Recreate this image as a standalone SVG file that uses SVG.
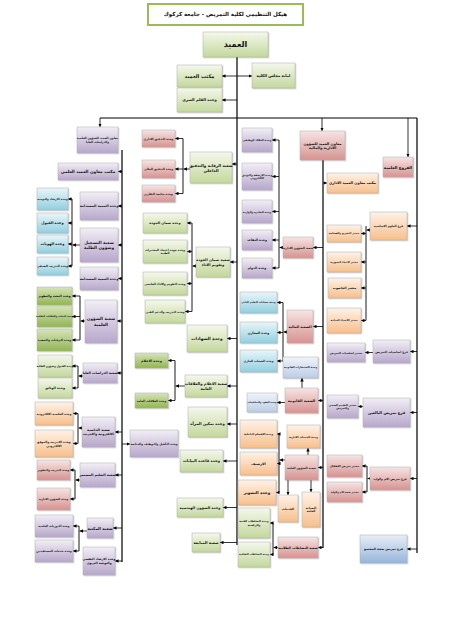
<svg xmlns="http://www.w3.org/2000/svg" width="451" height="630" viewBox="0 0 451 630">
<style>
.b{stroke:#b0b0b0;stroke-width:.5;filter:url(#sh)}
.gr{fill:url(#gGr)}.gd{fill:url(#gGd)}.pu{fill:url(#gPu)}.pk{fill:url(#gPk)}.or{fill:url(#gOr)}.cy{fill:url(#gCy)}.bl{fill:url(#gBl)}.lv{fill:url(#gLv)}
text{font-family:"DejaVu Sans",sans-serif;font-weight:bold;text-anchor:middle;fill:#111}
.c{stroke:#000;stroke-width:.9;fill:none}
.m{stroke:#000;stroke-width:1.2;fill:none}
.a{stroke:#000;stroke-width:.8;fill:none;marker-end:url(#ar)}
</style>
<defs>
<filter id="sh" x="-20%" y="-20%" width="150%" height="150%"><feDropShadow dx="0.8" dy="0.8" stdDeviation="0.6" flood-color="#000" flood-opacity="0.3"/></filter>
<linearGradient id="gGr" x1="0" y1="0" x2="0" y2="1"><stop offset="0" stop-color="#f4f8ea"/><stop offset="1" stop-color="#c4d89c"/></linearGradient>
<linearGradient id="gGd" x1="0" y1="0" x2="0" y2="1"><stop offset="0" stop-color="#d6e5b6"/><stop offset="1" stop-color="#92b553"/></linearGradient>
<linearGradient id="gPu" x1="0" y1="0" x2="0" y2="1"><stop offset="0" stop-color="#f2eef6"/><stop offset="1" stop-color="#b7a7cb"/></linearGradient>
<linearGradient id="gPk" x1="0" y1="0" x2="0" y2="1"><stop offset="0" stop-color="#f8e4e3"/><stop offset="1" stop-color="#d69391"/></linearGradient>
<linearGradient id="gOr" x1="0" y1="0" x2="0" y2="1"><stop offset="0" stop-color="#fff2e6"/><stop offset="1" stop-color="#f7bf8c"/></linearGradient>
<linearGradient id="gCy" x1="0" y1="0" x2="0" y2="1"><stop offset="0" stop-color="#e8f6fa"/><stop offset="1" stop-color="#92cfdf"/></linearGradient>
<linearGradient id="gBl" x1="0" y1="0" x2="0" y2="1"><stop offset="0" stop-color="#e6eef8"/><stop offset="1" stop-color="#97b5da"/></linearGradient>
<linearGradient id="gLv" x1="0" y1="0" x2="0" y2="1"><stop offset="0" stop-color="#f0f4fa"/><stop offset="1" stop-color="#bccde6"/></linearGradient>
<marker id="ar" viewBox="0 0 6 6" refX="6" refY="3" markerWidth="3.5" markerHeight="3.5" markerUnits="userSpaceOnUse" orient="auto"><path d="M0,0L6,3L0,6z" fill="#000"/></marker>
</defs>
<rect width="451" height="630" fill="#fff"/>

<g id="connectors">
<path class="m" d="M237,57V545M122,150V562M323,160V548M417,118V553"/>
<path class="m" stroke-width="2" d="M100,118H417"/>
<line class="a" x1="100" y1="118" x2="100" y2="127"/>
<line class="a" x1="322" y1="118" x2="322" y2="131"/>
<line class="a" x1="408" y1="118" x2="408" y2="157"/>
<line class="a" x1="237" y1="76" x2="222" y2="76"/>
<line class="a" x1="237" y1="76" x2="252" y2="76"/>
<line class="a" x1="237" y1="100" x2="222" y2="100"/>
<line class="a" x1="122" y1="171.5" x2="118" y2="171.5"/>
<line class="a" x1="122" y1="206" x2="118" y2="206"/>
<line class="a" x1="122" y1="245" x2="118" y2="245"/>
<line class="a" x1="122" y1="278.5" x2="118" y2="278.5"/>
<line class="a" x1="122" y1="321" x2="117" y2="321"/>
<line class="a" x1="122" y1="373" x2="117" y2="373"/>
<line class="a" x1="122" y1="432" x2="115" y2="432"/>
<line class="a" x1="122" y1="475" x2="115" y2="475"/>
<line class="a" x1="122" y1="528" x2="113" y2="528"/>
<line class="a" x1="122" y1="561" x2="115" y2="561"/>
<line class="a" x1="122" y1="444" x2="130" y2="444"/>
<path class="c" d="M72,199V266M80,296V340M78,366V388M78,413.5V443.5M75,470V499M79,526V551"/>
<line class="a" x1="80" y1="245" x2="72.5" y2="245"/>
<line class="a" x1="72" y1="199" x2="68" y2="199"/>
<line class="a" x1="72" y1="223" x2="68" y2="223"/>
<line class="a" x1="72" y1="244" x2="68" y2="244"/>
<line class="a" x1="72" y1="266" x2="68" y2="266"/>
<line class="a" x1="85" y1="321" x2="80.5" y2="321"/>
<line class="a" x1="80" y1="296" x2="72" y2="296"/>
<line class="a" x1="80" y1="316.5" x2="72" y2="316.5"/>
<line class="a" x1="80" y1="340" x2="72" y2="340"/>
<line class="a" x1="83" y1="376" x2="78.5" y2="376"/>
<line class="a" x1="78" y1="366" x2="72" y2="366"/>
<line class="a" x1="78" y1="388" x2="72" y2="388"/>
<line class="a" x1="82" y1="428" x2="78.5" y2="428"/>
<line class="a" x1="78" y1="413.5" x2="73" y2="413.5"/>
<line class="a" x1="78" y1="443.5" x2="73" y2="443.5"/>
<line class="a" x1="80" y1="480" x2="75.5" y2="480"/>
<line class="a" x1="75" y1="470" x2="70" y2="470"/>
<line class="a" x1="75" y1="499" x2="70" y2="499"/>
<line class="a" x1="87" y1="531" x2="79.5" y2="531"/>
<line class="a" x1="79" y1="526" x2="73" y2="526"/>
<line class="a" x1="79" y1="551" x2="73" y2="551"/>
<line class="a" x1="237" y1="164" x2="232" y2="164"/>
<line class="a" x1="237" y1="262" x2="230" y2="262"/>
<line class="a" x1="237" y1="338.5" x2="227" y2="338.5"/>
<line class="a" x1="237" y1="386" x2="227" y2="386"/>
<line class="a" x1="237" y1="424" x2="227" y2="424"/>
<line class="a" x1="237" y1="461" x2="223" y2="461"/>
<line class="a" x1="237" y1="507.5" x2="223" y2="507.5"/>
<line class="a" x1="237" y1="542.5" x2="220" y2="542.5"/>
<path class="c" d="M183,138.5V193.5M192,223V311.5M175,360.5V400.5"/>
<line class="a" x1="190" y1="169" x2="183.5" y2="169"/>
<line class="a" x1="183" y1="138.5" x2="175" y2="138.5"/>
<line class="a" x1="183" y1="169" x2="175" y2="169"/>
<line class="a" x1="183" y1="193.5" x2="175" y2="193.5"/>
<line class="a" x1="196" y1="266" x2="192.5" y2="266"/>
<line class="a" x1="192" y1="223" x2="187" y2="223"/>
<line class="a" x1="192" y1="251.5" x2="187" y2="251.5"/>
<line class="a" x1="192" y1="283.5" x2="187" y2="283.5"/>
<line class="a" x1="192" y1="311.5" x2="185" y2="311.5"/>
<line class="a" x1="185" y1="386" x2="175.5" y2="386"/>
<line class="a" x1="175" y1="360.5" x2="168" y2="360.5"/>
<line class="a" x1="175" y1="400.5" x2="168" y2="400.5"/>
<line class="a" x1="323" y1="183" x2="327" y2="183"/>
<line class="a" x1="323" y1="247.5" x2="313" y2="247.5"/>
<line class="a" x1="323" y1="326.5" x2="313" y2="326.5"/>
<line class="a" x1="323" y1="400.5" x2="318" y2="400.5"/>
<line class="a" x1="323" y1="467.5" x2="318" y2="467.5"/>
<line class="a" x1="323" y1="547.5" x2="318" y2="547.5"/>
<path class="c" d="M279,140V268M283,302.5V361M279,434V492.5M273,523V554.5"/>
<line class="a" x1="283" y1="247.5" x2="279.5" y2="247.5"/>
<line class="a" x1="279" y1="140" x2="272" y2="140"/>
<line class="a" x1="279" y1="176.5" x2="272" y2="176.5"/>
<line class="a" x1="279" y1="211.5" x2="272" y2="211.5"/>
<line class="a" x1="279" y1="240" x2="272" y2="240"/>
<line class="a" x1="279" y1="268" x2="272" y2="268"/>
<line class="a" x1="287" y1="332" x2="283.5" y2="332"/>
<line class="a" x1="283" y1="302.5" x2="277" y2="302.5"/>
<line class="a" x1="283" y1="332.5" x2="277" y2="332.5"/>
<line class="a" x1="283" y1="361" x2="277" y2="361"/>
<line class="a" x1="302" y1="388" x2="302" y2="378"/>
<line class="a" x1="285" y1="402.5" x2="277" y2="402.5"/>
<line class="a" x1="308" y1="455" x2="308" y2="448"/>
<line class="a" x1="285" y1="460" x2="279.5" y2="460"/>
<line class="a" x1="279" y1="434" x2="277" y2="434"/>
<line class="a" x1="279" y1="463.5" x2="277" y2="463.5"/>
<line class="a" x1="279" y1="492.5" x2="276" y2="492.5"/>
<line class="a" x1="288" y1="480" x2="288" y2="495"/>
<line class="a" x1="311" y1="480" x2="311" y2="492"/>
<line class="a" x1="278" y1="547.5" x2="273.5" y2="547.5"/>
<line class="a" x1="273" y1="523" x2="270" y2="523"/>
<line class="a" x1="273" y1="554.5" x2="270" y2="554.5"/>
<line class="a" x1="417" y1="226" x2="407" y2="226"/>
<line class="a" x1="417" y1="351.5" x2="410" y2="351.5"/>
<line class="a" x1="417" y1="412.5" x2="410" y2="412.5"/>
<line class="a" x1="417" y1="478.5" x2="410" y2="478.5"/>
<line class="a" x1="417" y1="549" x2="407" y2="549"/>
<path class="c" d="M366,226V320.5M367,466V492"/>
<line class="a" x1="370" y1="230" x2="366.5" y2="230"/>
<line class="a" x1="366" y1="233.5" x2="361" y2="233.5"/>
<line class="a" x1="366" y1="262" x2="361" y2="262"/>
<line class="a" x1="366" y1="288" x2="361" y2="288"/>
<line class="a" x1="366" y1="320.5" x2="361" y2="320.5"/>
<line class="a" x1="373" y1="352.5" x2="365" y2="352.5"/>
<line class="a" x1="363" y1="406.5" x2="358" y2="406.5"/>
<line class="a" x1="370" y1="478.5" x2="367.5" y2="478.5"/>
<line class="a" x1="367" y1="466" x2="362" y2="466"/>
<line class="a" x1="367" y1="492" x2="362" y2="492"/>
</g>

<g id="title"><rect x="148" y="4" width="155" height="21" fill="#fff" stroke="#9bbb59" stroke-width="2"/><text x="225.5" y="16.4" font-size="5.5">هيكل التنظيمي لكلية التمريض - جامعة كركوك</text></g>
<g id="dean"><rect class="b gr" x="203" y="32" width="65" height="25"/><text x="235.5" y="47.3" font-size="8">العميد</text></g>
<g id="dean-office"><rect class="b gr" x="177" y="65" width="45" height="22"/><text x="199.5" y="77.8" font-size="5">مكتب العميد</text></g>
<g id="council"><rect class="b gr" x="252" y="63" width="43" height="25"/><text x="273.5" y="76.8" font-size="3.8">امانة مجلس الكلية</text></g>
<g id="secret"><rect class="b gr" x="177" y="88" width="45" height="24"/><text x="199.5" y="101.3" font-size="3.8">وحدة القلم السري</text></g>

<g id="L1"><rect class="b pu" x="77" y="127" width="41" height="26"/><text x="97.5" y="139" font-size="2.9">معاون العميد للشؤون العلمية</text><text x="97.5" y="143.3" font-size="2.9">والدراسات العليا</text></g>
<g id="L2"><rect class="b pu" x="58" y="163" width="60" height="17"/><text x="88" y="173" font-size="4.2">مكتب معاون العميد العلمي</text></g>
<g id="L3"><rect class="b pu" x="80" y="192" width="38" height="28"/><text x="99" y="207.3" font-size="3.4">وحدة التنمية المستدامة</text></g>
<g id="L4"><rect class="b pu" x="80" y="228" width="38" height="34"/><text x="99" y="243.9" font-size="4.2">شعبة التسجيل</text><text x="99" y="249.1" font-size="4.2">وشؤون الطلبة</text></g>
<g id="C1"><rect class="b cy" x="37" y="188" width="31" height="22"/><text x="52.5" y="200" font-size="2.8">وحدة الارشاد والتوجيه</text></g>
<g id="C2"><rect class="b cy" x="37" y="213" width="31" height="20"/><text x="52.5" y="224.3" font-size="3.6">وحدة القبول</text></g>
<g id="C3"><rect class="b cy" x="37" y="235" width="31" height="18"/><text x="52.5" y="245.3" font-size="3.6">وحدة الهويات</text></g>
<g id="C4"><rect class="b cy" x="37" y="257" width="31" height="18"/><text x="52.5" y="267" font-size="2.9">وحدة التدريب الصيفي</text></g>
<g id="L5"><rect class="b pu" x="80" y="267" width="38" height="23"/><text x="99" y="279.8" font-size="3.4">وحدة التنمية المستدامة</text></g>
<g id="L6"><rect class="b pu" x="85" y="300" width="32" height="43"/><text x="101" y="320.4" font-size="4.2">شعبة الشؤون</text><text x="101" y="325.6" font-size="4.2">العلمية</text></g>
<g id="G1"><rect class="b gd" x="37" y="287" width="35" height="18"/><text x="54.5" y="297.1" font-size="3.1">وحدة البحث والتطوير</text></g>
<g id="G2"><rect class="b gd" x="37" y="306" width="35" height="21"/><text x="54.5" y="317.4" font-size="2.4">وحدة البعثات والعلاقات الثقافية</text></g>
<g id="G3"><rect class="b gd" x="37" y="329" width="35" height="22"/><text x="54.5" y="341" font-size="2.9">وحدة الترقيات والتعضيد</text></g>
<g id="L7"><rect class="b pu" x="83" y="363" width="34" height="20"/><text x="100" y="374.3" font-size="3.4">شعبة الدراسات العليا</text></g>
<g id="G4"><rect class="b gr" x="38" y="355" width="34" height="22"/><text x="55" y="367" font-size="2.7">وحدة القبول وشؤون الطلبة</text></g>
<g id="G5"><rect class="b gr" x="38" y="378" width="34" height="20"/><text x="55" y="389.1" font-size="3.2">وحدة الوثائق</text></g>
<g id="L8"><rect class="b pu" x="82" y="417" width="33" height="30"/><text x="98.5" y="431" font-size="3.4">شعبة الحاسبة</text><text x="98.5" y="435.3" font-size="3.1">الالكترونية والانترنت</text></g>
<g id="O1"><rect class="b or" x="35" y="402" width="38" height="23"/><text x="54" y="414.5" font-size="2.9">وحدة الحاسبة الالكترونية</text></g>
<g id="O2"><rect class="b or" x="35" y="430" width="38" height="27"/><text x="54" y="442.6" font-size="3">وحدة الانترنت والموقع</text><text x="54" y="446.6" font-size="3">الالكتروني</text></g>
<g id="L9"><rect class="b pu" x="80" y="463" width="35" height="24"/><text x="97.5" y="476.3" font-size="3.4">شعبة التعليم المستمر</text></g>
<g id="P1"><rect class="b pk" x="37" y="460" width="33" height="20"/><text x="53.5" y="471" font-size="2.8">وحدة التدريب والتطوير</text></g>
<g id="P2"><rect class="b pk" x="37" y="488" width="33" height="22"/><text x="53.5" y="500" font-size="2.8">وحدة الشؤون الادارية</text></g>
<g id="L10"><rect class="b pu" x="87" y="518" width="26" height="20"/><text x="100" y="529.5" font-size="4">شعبة المكتبة</text></g>
<g id="U1"><rect class="b pu" x="35" y="515" width="38" height="22"/><text x="54" y="527" font-size="2.9">وحدة الدوريات العلمية</text></g>
<g id="U2"><rect class="b pu" x="35" y="540" width="38" height="22"/><text x="54" y="552" font-size="2.9">وحدة خدمات المستفيدين</text></g>
<g id="L11"><rect class="b pu" x="83" y="547" width="32" height="28"/><text x="99" y="560.1" font-size="3.1">وحدة الارشاد النفسي</text><text x="99" y="564.1" font-size="3.1">والتوجيه التربوي</text></g>
<g id="L12"><rect class="b pu" x="130" y="430" width="48" height="27"/><text x="154" y="444.5" font-size="2.9">وحدة التأهيل والتوظيف والمتابعة</text></g>

<g id="M1"><rect class="b gr" x="190" y="152" width="42" height="31"/><text x="211" y="166.5" font-size="4">شعبة الرقابة والتدقيق</text><text x="211" y="171.5" font-size="4">الداخلي</text></g>
<g id="K1"><rect class="b pk" x="142" y="130" width="33" height="17"/><text x="158.5" y="139.5" font-size="2.9">وحدة التدقيق الاداري</text></g>
<g id="K2"><rect class="b pk" x="142" y="160" width="33" height="18"/><text x="158.5" y="170" font-size="2.9">وحدة التدقيق المالي</text></g>
<g id="K3"><rect class="b pk" x="142" y="185" width="33" height="17"/><text x="158.5" y="194.5" font-size="2.9">وحدة متابعة التقارير</text></g>
<g id="M2"><rect class="b gr" x="196" y="247" width="34" height="30"/><text x="213" y="261" font-size="3.6">شعبة ضمان الجودة</text><text x="213" y="265.5" font-size="3.6">وتقويم الاداء</text></g>
<g id="Q1"><rect class="b gr" x="143" y="213" width="44" height="20"/><text x="165" y="224.2" font-size="3.4">وحدة ضمان الجودة</text></g>
<g id="Q2"><rect class="b gr" x="143" y="240" width="44" height="23"/><text x="165" y="250.7" font-size="2.9">وحدة جودة اعتماد المختبرات</text><text x="165" y="254.4" font-size="2.9">الطبية</text></g>
<g id="Q3"><rect class="b gr" x="143" y="272" width="44" height="23"/><text x="165" y="284.5" font-size="2.9">وحدة التقويم والاداء الجامعي</text></g>
<g id="Q4"><rect class="b gr" x="145" y="300" width="40" height="23"/><text x="165" y="312.5" font-size="2.9">وحدة التدريب والدعم الفني</text></g>
<g id="M3"><rect class="b gr" x="187" y="325" width="40" height="27"/><text x="207" y="340" font-size="4.2">وحدة الشهادات</text></g>
<g id="M4"><rect class="b gr" x="185" y="375" width="42" height="22"/><text x="206" y="384.9" font-size="3.8">شعبة الاعلام والعلاقات</text><text x="206" y="389.6" font-size="3.8">العامة</text></g>
<g id="E1"><rect class="b gd" x="135" y="353" width="33" height="15"/><text x="151.5" y="361.7" font-size="3.4">وحدة الاعلام</text></g>
<g id="E2"><rect class="b gd" x="135" y="393" width="33" height="15"/><text x="151.5" y="401.5" font-size="2.9">وحدة العلاقات العامة</text></g>
<g id="M5"><rect class="b gr" x="188" y="407" width="39" height="30"/><text x="207.5" y="425" font-size="3.8">وحدة تمكين المرأة</text></g>
<g id="M6"><rect class="b gr" x="180" y="450" width="43" height="22"/><text x="201.5" y="462.3" font-size="3.8">وحدة قاعدة البيانات</text></g>
<g id="M7"><rect class="b gr" x="177" y="498" width="46" height="19"/><text x="200" y="508.8" font-size="3.6">وحدة الشؤون الهندسية</text></g>
<g id="M8"><rect class="b gr" x="192" y="533" width="28" height="19"/><text x="206" y="543.8" font-size="3.8">شعبة المتابعة</text></g>

<g id="R0"><rect class="b pk" x="300" y="131" width="45" height="29"/><text x="322.5" y="144.5" font-size="3.6">معاون العميد للشؤون</text><text x="322.5" y="149" font-size="3.6">الادارية والمالية</text></g>
<g id="R00"><rect class="b or" x="327" y="173" width="51" height="20"/><text x="352.5" y="184.3" font-size="3.6">مكتب معاون العميد الاداري</text></g>
<g id="R1"><rect class="b pk" x="283" y="237" width="30" height="21"/><text x="298" y="248.5" font-size="2.9">شعبة الشؤون الادارية</text></g>
<g id="A1"><rect class="b pu" x="242" y="128" width="30" height="24"/><text x="257" y="141" font-size="2.7">وحدة الملاك الوظيفي</text></g>
<g id="A2"><rect class="b pu" x="242" y="163" width="30" height="27"/><text x="257" y="175.7" font-size="2.7">وحدة الارشفة والتوثيق</text><text x="257" y="179.2" font-size="2.7">الالكتروني</text></g>
<g id="A3"><rect class="b pu" x="242" y="200" width="30" height="23"/><text x="257" y="212.5" font-size="2.6">وحدة الصادرة والواردة</text></g>
<g id="A4"><rect class="b pu" x="242" y="230" width="30" height="20"/><text x="257" y="241.1" font-size="3.2">وحدة التقاعد</text></g>
<g id="A5"><rect class="b pu" x="242" y="258" width="30" height="20"/><text x="257" y="269.1" font-size="3.2">وحدة الدوام</text></g>
<g id="R2"><rect class="b pk" x="287" y="310" width="26" height="33"/><text x="300" y="327.8" font-size="3.4">الشعبة المالية</text></g>
<g id="F1"><rect class="b cy" x="240" y="292" width="37" height="21"/><text x="258.5" y="303.4" font-size="2.5">وحدة حسابات التعليم الذاتي</text></g>
<g id="F2"><rect class="b cy" x="240" y="322" width="37" height="21"/><text x="258.5" y="333.6" font-size="3.2">وحدة المخازن</text></g>
<g id="F3"><rect class="b cy" x="240" y="350" width="37" height="22"/><text x="258.5" y="362" font-size="2.9">وحدة الحساب الجاري</text></g>
<g id="R3"><rect class="b lv" x="283" y="357" width="35" height="21"/><text x="300.5" y="368.4" font-size="2.5">وحدة الاستشارات القانونية</text></g>
<g id="R4"><rect class="b pk" x="285" y="388" width="33" height="25"/><text x="301.5" y="401.8" font-size="3.5">الشعبة القانونية</text></g>
<g id="J1"><rect class="b lv" x="247" y="393" width="30" height="19"/><text x="262" y="403.4" font-size="2.4">وحدة العقود والمناقصات</text></g>
<g id="R5"><rect class="b or" x="287" y="425" width="33" height="23"/><text x="303.5" y="437.5" font-size="2.7">وحدة الخدمات الادارية</text></g>
<g id="R6"><rect class="b pk" x="285" y="455" width="33" height="25"/><text x="301.5" y="468.5" font-size="2.9">شعبة الشؤون العامة</text></g>
<g id="S1"><rect class="b or" x="240" y="420" width="37" height="28"/><text x="258.5" y="435" font-size="2.7">وحدة الاقسام الداخلية</text></g>
<g id="S2"><rect class="b or" x="240" y="452" width="37" height="23"/><text x="258.5" y="464.7" font-size="3.4">الارشيف</text></g>
<g id="S3"><rect class="b or" x="238" y="480" width="38" height="25"/><text x="257" y="494" font-size="4">وحدة التصوير</text></g>
<g id="S4"><rect class="b or" x="278" y="495" width="20" height="27"/><text x="288" y="509.5" font-size="3">الخدمات</text></g>
<g id="S5"><rect class="b or" x="302" y="492" width="18" height="35"/><text x="311" y="508.7" font-size="3">الصيانة</text><text x="311" y="512.4" font-size="3">العامة</text></g>
<g id="R7"><rect class="b pk" x="278" y="537" width="40" height="21"/><text x="298" y="548.7" font-size="3.3">شعبة النشاطات الطلابية</text></g>
<g id="N1"><rect class="b gr" x="238" y="508" width="32" height="30"/><text x="254" y="522.2" font-size="2.7">وحدة النشاطات الفنية</text><text x="254" y="525.7" font-size="2.7">والرياضية</text></g>
<g id="N2"><rect class="b gr" x="238" y="542" width="32" height="25"/><text x="254" y="555.4" font-size="2.5">وحدة النشاطات الثقافية</text></g>

<g id="B0"><rect class="b pk" x="383" y="157" width="30" height="20"/><text x="398" y="168.5" font-size="4">الفروع العلمية</text></g>
<g id="B1"><rect class="b or" x="370" y="212" width="37" height="28"/><text x="388.5" y="227" font-size="2.9">فرع العلوم الاساسية</text></g>
<g id="H1"><rect class="b or" x="327" y="225" width="34" height="17"/><text x="344" y="234.4" font-size="2.5">مختبر التشريح والفسلجة</text></g>
<g id="H2"><rect class="b or" x="327" y="252" width="34" height="20"/><text x="344" y="263" font-size="2.5">مختبر الاحياء المجهرية</text></g>
<g id="H3"><rect class="b or" x="328" y="278" width="33" height="20"/><text x="344.5" y="289.1" font-size="3.1">مختبر الحاسوب</text></g>
<g id="H4"><rect class="b or" x="327" y="308" width="34" height="25"/><text x="344" y="321.4" font-size="2.5">مختبر الكيمياء الحياتية</text></g>
<g id="B2"><rect class="b pu" x="373" y="340" width="37" height="23"/><text x="391.5" y="352.5" font-size="2.9">فرع اساسيات التمريض</text></g>
<g id="I1"><rect class="b pu" x="327" y="343" width="38" height="19"/><text x="346" y="353.5" font-size="2.7">مختبر اساسيات التمريض</text></g>
<g id="B3"><rect class="b pu" x="363" y="398" width="47" height="29"/><text x="386.5" y="413.8" font-size="3.8">فرع تمريض البالغين</text></g>
<g id="I2"><rect class="b pu" x="327" y="395" width="31" height="23"/><text x="342.5" y="405.7" font-size="2.7">مختبر التقييم الصحي</text><text x="342.5" y="409.2" font-size="2.7">والتمريض</text></g>
<g id="B4"><rect class="b pk" x="370" y="467" width="40" height="23"/><text x="390" y="479.5" font-size="2.9">فرع تمريض الام والوليد</text></g>
<g id="I3"><rect class="b pk" x="327" y="455" width="35" height="22"/><text x="344.5" y="467" font-size="2.7">مختبر تمريض الاطفال</text></g>
<g id="I4"><rect class="b pk" x="327" y="482" width="35" height="20"/><text x="344.5" y="492.9" font-size="2.5">مختبر صحة الام والوليد</text></g>
<g id="B5"><rect class="b bl" x="360" y="535" width="47" height="28"/><text x="383.5" y="550.1" font-size="3.1">فرع تمريض صحة المجتمع</text></g>
</svg>
